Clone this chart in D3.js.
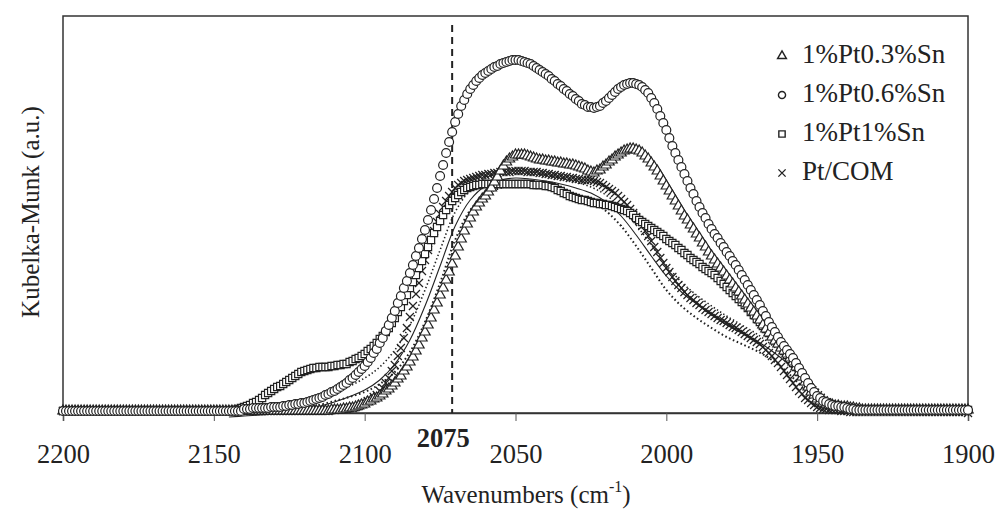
<!DOCTYPE html>
<html><head><meta charset="utf-8">
<script src="https://cdn.jsdelivr.net/npm/d3@7"></script>
<style>body{margin:0;background:#fff} svg{display:block} text{font-family:"Liberation Serif","Times New Roman",serif}</style>
</head><body>
<svg id="chart" width="996" height="514"></svg>
<script>
// ---------- DATA (wavenumber grid, cm-1) ----------
const wavenumbers = [
2200,2199,2198,2197,2196,2195,2194,2193,2192,2191,2190,2189,2188,2187,2186,2185,2184,2183,2182,2181,
2180,2179,2178,2177,2176,2175,2174,2173,2172,2171,2170,2169,2168,2167,2166,2165,2164,2163,2162,2161,
2160,2159,2158,2157,2156,2155,2154,2153,2152,2151,2150,2149,2148,2147,2146,2145,2144,2143,2142,2141,
2140,2139,2138,2137,2136,2135,2134,2133,2132,2131,2130,2129,2128,2127,2126,2125,2124,2123,2122,2121,
2120,2119,2118,2117,2116,2115,2114,2113,2112,2111,2110,2109,2108,2107,2106,2105,2104,2103,2102,2101,
2100,2099,2098,2097,2096,2095,2094,2093,2092,2091,2090,2089,2088,2087,2086,2085,2084,2083,2082,2081,
2080,2079,2078,2077,2076,2075,2074,2073,2072,2071,2070,2069,2068,2067,2066,2065,2064,2063,2062,2061,
2060,2059,2058,2057,2056,2055,2054,2053,2052,2051,2050,2049,2048,2047,2046,2045,2044,2043,2042,2041,
2040,2039,2038,2037,2036,2035,2034,2033,2032,2031,2030,2029,2028,2027,2026,2025,2024,2023,2022,2021,
2020,2019,2018,2017,2016,2015,2014,2013,2012,2011,2010,2009,2008,2007,2006,2005,2004,2003,2002,2001,
2000,1999,1998,1997,1996,1995,1994,1993,1992,1991,1990,1989,1988,1987,1986,1985,1984,1983,1982,1981,
1980,1979,1978,1977,1976,1975,1974,1973,1972,1971,1970,1969,1968,1967,1966,1965,1964,1963,1962,1961,
1960,1959,1958,1957,1956,1955,1954,1953,1952,1951,1950,1949,1948,1947,1946,1945,1944,1943,1942,1941,
1940,1939,1938,1937,1936,1935,1934,1933,1932,1931,1930,1929,1928,1927,1926,1925,1924,1923,1922,1921,
1920,1919,1918,1917,1916,1915,1914,1913,1912,1911,1910,1909,1908,1907,1906,1905,1904,1903,1902,1901,
1900];

// Kubelka-Munk (a.u.) for each sample, same order as wavenumbers
const pt03Sn = [
2,2,2,2,2,2,2,2,2,2,2,2,2,2,2,2,2,2,2,2,
2,2,2,2,2,2,2,2,2,2,2,2,2,2,2,2,2,2,2,2,
2,2,2,2,2,2,2,2,2,2,2,2,2,2,2,2,2,2,2,2,
2,2,2,2,2,2,2,2,2,2,2,2,2,2,2,2,2,2,2,2,
2,2,2,2,2,2,2,2,2,3,3,3,3,4,4,5,5,6,7,8,
9,11,12,14,15,17,19,22,24,27,30,34,37,42,46,51,56,62,68,75,
81,88,95,103,110,118,125,133,141,149,157,166,174,182,189,195,201,206,210,214,
217,221,225,231,236,242,247,251,254,256,258,258,258,258,257,256,255,254,253,253,
252,252,251,251,250,250,249,249,248,248,247,246,245,244,242,241,240,242,243,246,
248,251,253,256,258,260,262,263,264,264,263,262,260,257,254,250,246,242,237,232,
227,222,217,212,207,202,197,193,188,184,179,175,170,166,161,157,153,149,145,141,
137,133,129,125,121,117,113,109,105,101,97,93,88,84,80,76,72,69,65,62,
59,55,51,46,41,36,31,26,21,18,14,12,10,9,8,8,7,7,6,6,
6,5,5,4,4,3,3,3,3,3,3,3,3,3,3,3,3,3,3,3,
3,3,3,3,3,3,3,3,3,3,3,3,3,3,3,3,3,3,3,3,
3];

const pt06Sn = [
2,2,2,2,2,2,2,2,2,2,2,2,2,2,2,2,2,2,2,2,
2,2,2,2,2,2,2,2,2,2,2,2,2,2,2,2,2,2,2,2,
2,2,2,2,2,2,2,2,2,2,2,2,2,2,2,2,2,2,2,2,
4,4,4,5,5,5,5,5,5,6,6,6,6,7,7,8,8,9,9,10,
10,11,12,13,14,15,16,18,19,21,22,24,26,28,30,33,35,38,41,44,
47,51,55,60,64,70,75,82,88,95,102,110,117,125,132,140,148,157,165,174,
183,193,203,214,225,237,248,260,271,281,291,299,307,313,319,324,328,332,335,338,
340,342,344,346,347,349,350,351,352,353,353,353,352,351,350,349,347,345,343,341,
339,337,334,332,329,327,324,322,319,317,314,312,309,308,306,306,305,306,307,310,
312,315,318,321,324,326,328,329,330,330,329,328,326,323,320,315,310,304,297,290,
283,275,267,260,253,246,239,232,225,219,212,206,200,195,189,184,179,175,170,166,
161,157,152,148,143,138,133,128,123,118,113,108,102,97,91,86,81,76,71,67,
63,59,55,50,45,40,35,30,25,21,17,15,12,11,9,8,7,7,6,6,
5,4,4,3,3,3,3,3,3,3,3,3,3,3,3,3,3,3,3,3,
3,3,3,3,3,3,3,3,3,3,3,3,3,3,3,3,3,3,3,3,
3];

const pt1Sn = [
2,2,2,2,2,2,2,2,2,2,2,2,2,2,2,2,2,2,2,2,
2,2,2,2,2,2,2,2,2,2,2,2,2,2,2,2,2,2,2,2,
2,2,2,2,2,2,2,2,2,2,2,2,2,2,2,2,3,3,4,5,
6,7,8,10,11,13,15,18,20,22,24,26,27,29,31,33,35,37,39,41,
42,43,44,45,45,46,46,46,46,47,47,48,48,49,49,51,52,54,55,57,
59,62,64,67,70,74,77,81,85,90,95,101,106,112,118,125,131,138,145,152,
159,166,173,180,186,192,198,203,208,212,215,218,221,223,225,226,227,228,228,229,
229,229,229,229,229,229,229,229,229,229,229,229,229,229,229,229,228,228,228,228,
227,227,226,225,223,222,220,219,217,216,215,214,213,213,212,211,210,210,209,209,
208,208,207,206,205,204,203,202,200,198,195,193,191,189,187,185,183,181,179,177,
174,172,170,168,165,163,160,158,155,153,151,149,146,144,142,140,138,135,132,129,
126,123,120,117,114,111,108,105,101,98,94,91,87,84,80,77,73,70,66,62,
58,54,50,46,41,37,32,28,23,20,16,14,11,10,8,8,7,7,6,6,
6,5,5,4,4,3,3,3,3,3,3,3,3,3,3,3,3,3,3,3,
3,3,3,3,3,3,3,3,3,3,3,3,3,3,3,3,3,3,3,3,
3];

const ptCOM = [
2,2,2,2,2,2,2,2,2,2,2,2,2,2,2,2,2,2,2,2,
2,2,2,2,2,2,2,2,2,2,2,2,2,2,2,2,2,2,2,2,
2,2,2,2,2,2,2,2,2,2,2,2,2,2,2,2,2,2,2,2,
2,2,2,2,2,2,2,2,2,2,2,2,2,2,2,2,2,2,2,2,
2,2,2,2,2,2,2,2,2,3,3,4,4,4,4,5,5,6,7,9,
10,12,13,16,18,22,25,30,35,42,48,57,65,75,85,96,107,119,130,142,
153,163,173,182,191,199,206,212,217,221,225,228,230,232,233,234,235,236,237,238,
238,239,239,240,240,241,241,241,241,242,242,242,242,242,241,241,241,241,240,240,
239,239,238,238,237,237,236,236,235,235,234,234,233,233,233,233,232,231,230,228,
226,224,222,220,217,214,211,208,204,200,196,192,187,182,177,172,166,161,155,150,
145,141,136,132,128,125,121,118,115,113,110,108,105,103,101,99,97,95,93,92,
90,88,86,85,83,81,79,77,75,73,71,69,66,63,60,57,53,50,46,42,
38,34,30,26,22,19,15,13,10,8,6,5,4,4,3,3,3,3,2,2,
2,1,1,1,1,1,1,1,1,1,1,1,1,1,1,1,1,1,1,1,
1,1,1,1,1,1,1,1,1,1,1,1,1,1,1,1,1,1,1,1,
0];

// unlabeled traces (dotted / thin line) in the original figure
const dotAWn = [2200,2150,2140,2130,2120,2110,2100,2095,2090,2085,2080,2075,2070,2065,2060,2055,2050,2045,2040,2035,2030,2025,2020,2015,2010,2005,2000,1995,1990,1985,1980,1975,1970,1965,1960,1955,1950,1945,1940,1930,1920,1910,1900];
const dotAVal = [2,2,3,6,11,20,35,46,63,88,123,163,201,223,235,241,243,241,238,235,231,226,218,205,188,168,148,131,118,107,97,88,79,68,56,41,25,13,8,6,6,6,6];
const thinWn = [2145,2140,2130,2120,2110,2100,2095,2090,2085,2080,2075,2070,2065,2060,2055,2050,2045,2040,2035,2030,2025,2020,2015,2010,2005,2000,1995,1990,1985,1980,1975,1970,1965,1960,1955,1950,1945,1940,1930,1920,1910,1900];
const thinVal = [-4,-3,-1,3,11,23,33,49,73,107,147,187,213,227,233,235,234,232,229,225,220,211,197,178,157,137,121,109,98,88,80,72,62,50,34,18,8,4,2,1,1,1];
const dotBWn = [2150,2140,2130,2120,2110,2100,2095,2090,2085,2080,2075,2070,2065,2060,2055,2050,2045,2040,2035,2030,2025,2020,2015,2010,2005,2000,1995,1990,1985,1980,1975,1970,1965,1960,1955,1950,1945,1940,1930,1920,1910,1900];
const dotBVal = [0,1,2,5,12,21,29,41,61,91,130,173,203,218,225,227,226,224,221,217,212,202,187,167,145,123,107,95,85,76,69,62,53,41,26,13,5,2,0,0,0,0];

const seriesNames = ["1%Pt0.3%Sn","1%Pt0.6%Sn","1%Pt1%Sn","Pt/COM"];
const xTicks = [2200,2150,2100,2050,2000,1950,1900];
const markerWn = 2071;
const markerLabel = "2075";
const xTitle = "Wavenumbers (cm";
const xTitleSup = "-1";
const yTitle = "Kubelka-Munk (a.u.)";

// ---------- DRAW ----------
const svg = d3.select("#chart");
const L = 63, R = 968, T = 16, B = 413;
const x = d3.scaleLinear().domain([2200,1900]).range([L,R]);
const y = d3.scaleLinear().domain([0,400]).range([B,13]);
const ink = "#222";
const font = '"Liberation Serif","Times New Roman",serif';

// extra traces
const line = d3.line().x(d=>x(d[0])).y(d=>y(d[1])).curve(d3.curveCatmullRom);
const zip = (a,b)=>a.map((w,i)=>[w,b[i]]);
svg.append("path").attr("d", line(zip(dotAWn,dotAVal))).attr("fill","none")
  .attr("stroke",ink).attr("stroke-width",1.6).attr("stroke-dasharray","1.4,2.4");
svg.append("path").attr("d", line(zip(thinWn,thinVal))).attr("fill","none")
  .attr("stroke",ink).attr("stroke-width",1.1);
svg.append("path").attr("d", line(zip(dotBWn,dotBVal))).attr("fill","none")
  .attr("stroke",ink).attr("stroke-width",2).attr("stroke-dasharray","1.6,2.6");

// frame & axis
svg.append("rect").attr("x",L).attr("y",T).attr("width",R-L).attr("height",B-T)
  .attr("fill","none").attr("stroke","#333").attr("stroke-width",1.5);
const xAxis = d3.axisBottom(x).tickValues(xTicks).tickSize(8).tickFormat(d3.format("d"));
const gx = svg.append("g").attr("transform",`translate(0,${B})`).call(xAxis);
gx.select(".domain").attr("stroke","#333").attr("stroke-width",1.5);
gx.selectAll(".tick line").attr("stroke","#555").attr("stroke-width",1);
gx.selectAll(".tick text").style("font-family",font).attr("font-size",26.5)
  .attr("fill",ink).attr("y",31);

// dashed marker line
svg.append("line").attr("x1",x(markerWn)).attr("x2",x(markerWn)).attr("y1",25).attr("y2",B)
  .attr("stroke",ink).attr("stroke-width",2).attr("stroke-dasharray","7,5");
svg.append("text").attr("x",x(markerWn)-9).attr("y",447).attr("text-anchor","middle")
  .style("font-family",font).attr("font-weight","bold").attr("font-size",26.5).attr("fill",ink)
  .text(markerLabel);

// markers
const sym = [
  d3.symbol(d3.symbolTriangle, 46),
  d3.symbol(d3.symbolCircle, 62),
  d3.symbol(d3.symbolSquare, 52),
  d3.symbol(d3.symbolTimes, 44)
];
const data = [pt03Sn, pt06Sn, pt1Sn, ptCOM];
const drawOrder = [3,2,0,1];
drawOrder.forEach(si=>{
  const g = svg.append("g");
  g.selectAll("path").data(data[si].map((v,i)=>[wavenumbers[i],v])).join("path")
    .attr("transform",d=>`translate(${x(d[0])},${y(d[1])})`)
    .attr("d",sym[si]())
    .attr("fill", si===3 ? "none" : "#fff")
    .attr("stroke",ink).attr("stroke-width",1.2);
});

// legend
const lg = svg.append("g");
const legSym = [
  d3.symbol(d3.symbolTriangle, 34),
  d3.symbol(d3.symbolCircle, 40),
  d3.symbol(d3.symbolSquare, 40),
  d3.symbol(d3.symbolTimes, 36)
];
seriesNames.forEach((n,i)=>{
  const cy = 56 + i*39;
  lg.append("path").attr("transform",`translate(782,${cy})`).attr("d",legSym[i]())
    .attr("fill", i===3?"none":"#fff").attr("stroke",ink).attr("stroke-width",1.4);
  lg.append("text").attr("x",802).attr("y",cy+7).style("font-family",font)
    .attr("font-size",27).attr("fill",ink).text(n);
});

// titles
const xt = svg.append("text").attr("x",526).attr("y",503).attr("text-anchor","middle")
  .style("font-family",font).attr("font-size",25).attr("fill",ink);
xt.append("tspan").text(xTitle);
xt.append("tspan").attr("font-size",16).attr("dy",-11).text(xTitleSup);
xt.append("tspan").attr("dy",11).text(")");
svg.append("text").attr("transform","translate(39,212) rotate(-90)").attr("text-anchor","middle")
  .style("font-family",font).attr("font-size",25).attr("fill",ink).text(yTitle);
</script>
</body></html>
